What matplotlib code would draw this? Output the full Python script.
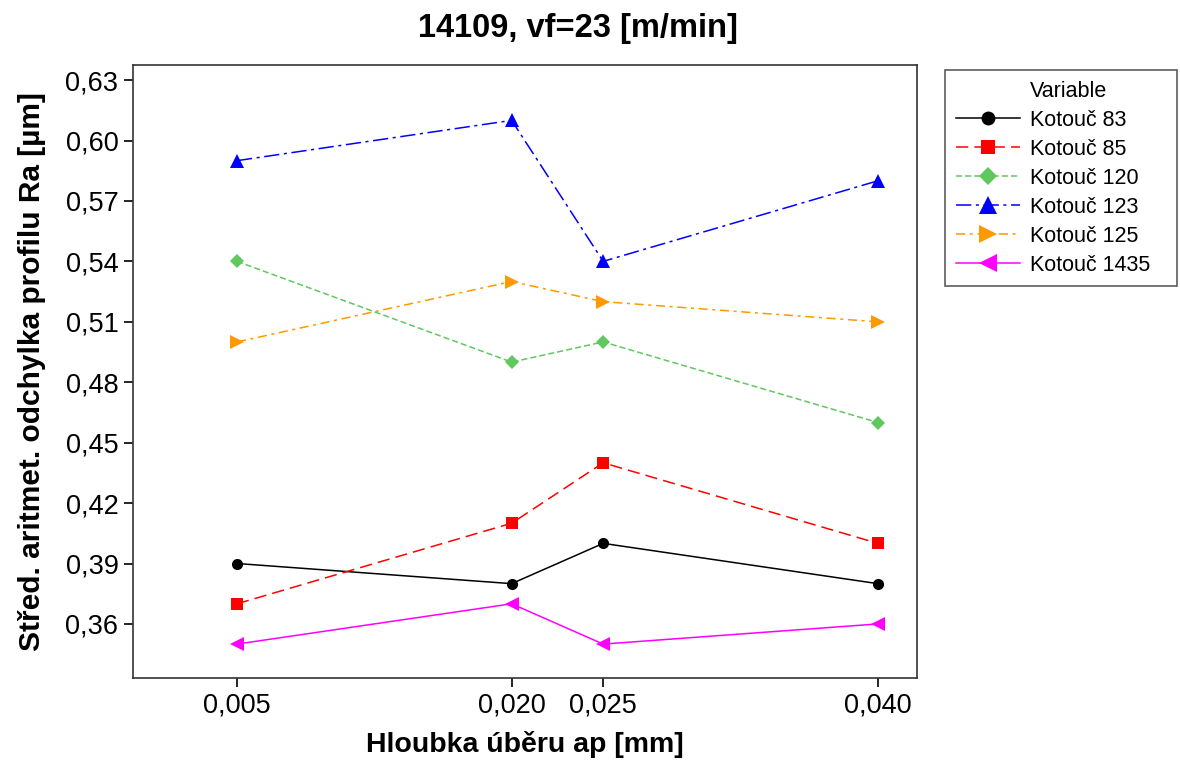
import numpy as np
import matplotlib
matplotlib.use('Agg')
import matplotlib.pyplot as plt
from matplotlib.lines import Line2D
from matplotlib.ticker import FuncFormatter

# hloubka uberu ap [mm]
ap = [0.005, 0.020, 0.025, 0.040]

ra_83 = [0.39, 0.38, 0.40, 0.38]
ra_85 = [0.37, 0.41, 0.44, 0.40]
ra_120 = [0.54, 0.49, 0.50, 0.46]
ra_123 = [0.59, 0.61, 0.54, 0.58]
ra_125 = [0.50, 0.53, 0.52, 0.51]
ra_1435 = [0.35, 0.37, 0.35, 0.36]

labels = ["Kotouč 83", "Kotouč 85", "Kotouč 120", "Kotouč 123", "Kotouč 125", "Kotouč 1435"]
y_ticks = [0.36, 0.39, 0.42, 0.45, 0.48, 0.51, 0.54, 0.57, 0.60, 0.63]

series = [ra_83, ra_85, ra_120, ra_123, ra_125, ra_1435]
colors = ["black", "#ff0000", "#5fc85f", "#0000ff", "#ff9900", "#ff00ff"]
markers = ["o", "s", "D", "^", ">", "<"]
msizes = [8, 8.5, 7, 10, 10, 10]
styles = ["-", (0, (8, 4)), (0, (4, 2)), (0, (10, 3, 2, 3)), (0, (6, 3, 2, 3)), "-"]

plt.rcParams['font.family'] = ['Liberation Sans', 'DejaVu Sans']

fig = plt.figure(figsize=(11.8, 7.6), dpi=100)
ax1 = fig.add_axes([0.1127, 0.108, 0.6643, 0.8065])

handles = []
for vals, lab, c, m, ms, ls in zip(series, labels, colors, markers, msizes, styles):
    ln, = ax1.plot(ap, vals, color=c, linestyle=ls, linewidth=1.1, marker=m,
                   markersize=ms, markeredgewidth=0, label=lab)
    handles.append(ln)

ax1.set_xlim(-0.00068, 0.04213)
ax1.set_ylim(0.3332, 0.6375)
ax1.set_xticks(ap)
ax1.set_yticks(y_ticks)
ax1.xaxis.set_major_formatter(FuncFormatter(lambda v, p: ('%.3f' % v).replace('.', ',')))
ax1.yaxis.set_major_formatter(FuncFormatter(lambda v, p: ('%.2f' % v).replace('.', ',')))
ax1.tick_params(labelsize=19.5, length=6.5, width=1.2, direction='out', pad=4)
for s in ax1.spines.values():
    s.set_linewidth(1.2)
    s.set_color('#333333')

ax1.set_xlabel("Hloubka úběru ap [mm]", fontsize=20.5, fontweight='bold', labelpad=9)
ax1.set_ylabel("Střed. aritmet. odchylka profilu Ra [µm]", fontsize=21.5, fontweight='bold', labelpad=14)
fig.suptitle("14109, vf=23 [m/min]", fontsize=23.5, fontweight='bold', x=0.49, y=0.983)

# heading row sits in the label column, like the other entries
head = Line2D([], [], linestyle='none')
leg = fig.legend([head] + handles, ["Variable"] + labels, loc='upper left',
                 bbox_to_anchor=(0.8008, 0.9079, 0.1966, 0.0), bbox_transform=fig.transFigure,
                 mode='expand', fontsize=15.5, frameon=True, fancybox=False, borderpad=0.5,
                 handlelength=3.0, handletextpad=0.45, labelspacing=0.37, borderaxespad=0,
                 markerscale=1.25)
leg.get_frame().set_edgecolor('#333333')
leg.get_frame().set_linewidth(1.2)

plt.savefig("out.png")
